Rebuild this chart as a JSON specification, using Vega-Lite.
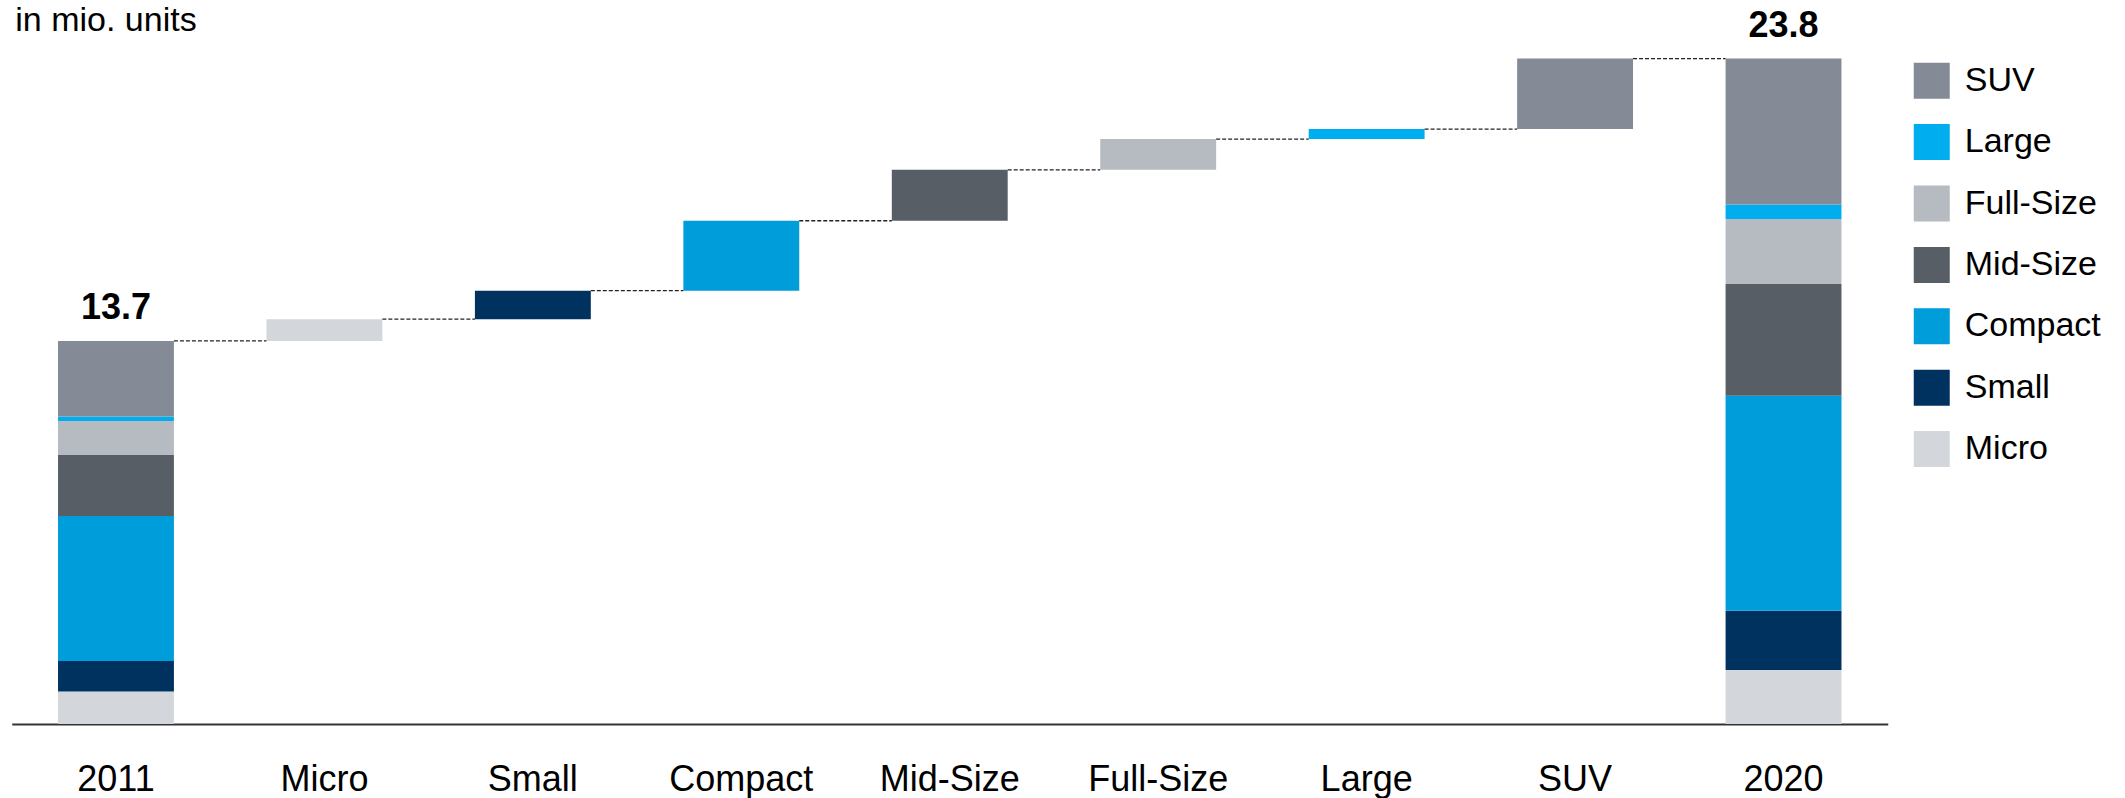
{
  "$schema": "https://vega.github.io/schema/vega-lite/v6.json",
  "width": 1876,
  "height": 685,
  "autosize": {"type": "none"},
  "padding": {"left": 11.75, "top": 39, "right": 237.25, "bottom": 74},
  "background": "white",
  "config": {"view": {"stroke": null}, "font": "Liberation Sans"},
  "datasets": {
    "bars": [
      {"cat": "2011", "seg": "Micro", "start": 0, "end": 1.16},
      {"cat": "2011", "seg": "Small", "start": 1.16, "end": 2.25},
      {"cat": "2011", "seg": "Compact", "start": 2.25, "end": 7.44},
      {"cat": "2011", "seg": "Mid-Size", "start": 7.44, "end": 9.62},
      {"cat": "2011", "seg": "Full-Size", "start": 9.62, "end": 10.84},
      {"cat": "2011", "seg": "Large", "start": 10.84, "end": 11.0},
      {"cat": "2011", "seg": "SUV", "start": 11.0, "end": 13.7},
      {"cat": "Micro", "seg": "Micro", "start": 13.7, "end": 14.48},
      {"cat": "Small", "seg": "Small", "start": 14.48, "end": 15.5},
      {"cat": "Compact", "seg": "Compact", "start": 15.5, "end": 18.0},
      {"cat": "Mid-Size", "seg": "Mid-Size", "start": 18.0, "end": 19.82},
      {"cat": "Full-Size", "seg": "Full-Size", "start": 19.82, "end": 20.92},
      {"cat": "Large", "seg": "Large", "start": 20.92, "end": 21.28},
      {"cat": "SUV", "seg": "SUV", "start": 21.28, "end": 23.8},
      {"cat": "2020", "seg": "Micro", "start": 0, "end": 1.93},
      {"cat": "2020", "seg": "Small", "start": 1.93, "end": 4.05},
      {"cat": "2020", "seg": "Compact", "start": 4.05, "end": 11.74},
      {"cat": "2020", "seg": "Mid-Size", "start": 11.74, "end": 15.74},
      {"cat": "2020", "seg": "Full-Size", "start": 15.74, "end": 18.06},
      {"cat": "2020", "seg": "Large", "start": 18.06, "end": 18.58},
      {"cat": "2020", "seg": "SUV", "start": 18.58, "end": 23.8}
    ],
    "links": [
      {"from": "2011", "to": "Micro", "level": 13.7},
      {"from": "Micro", "to": "Small", "level": 14.48},
      {"from": "Small", "to": "Compact", "level": 15.5},
      {"from": "Compact", "to": "Mid-Size", "level": 18.0},
      {"from": "Mid-Size", "to": "Full-Size", "level": 19.82},
      {"from": "Full-Size", "to": "Large", "level": 20.92},
      {"from": "Large", "to": "SUV", "level": 21.28},
      {"from": "SUV", "to": "2020", "level": 23.8}
    ],
    "totals": [
      {"cat": "2011", "value": 13.7},
      {"cat": "2020", "value": 23.8}
    ]
  },
  "layer": [
    {
      "data": {"name": "bars"},
      "mark": {"type": "bar", "strokeWidth": 0},
      "encoding": {
        "x": {
          "field": "cat", "type": "nominal", "title": null,
          "scale": {
            "domain": ["2011", "Micro", "Small", "Compact", "Mid-Size", "Full-Size", "Large", "SUV", "2020"],
            "paddingInner": 0.444, "paddingOuter": 0.222
          },
          "axis": {
            "orient": "bottom", "domain": true, "domainColor": "#333333", "domainWidth": 2,
            "ticks": false, "grid": false, "labelAngle": 0,
            "labelFont": "Liberation Sans", "labelFontSize": 36, "labelColor": "#000000",
            "labelBaseline": "alphabetic", "labelPadding": 66
          }
        },
        "y": {
          "field": "start", "type": "quantitative", "title": "in mio. units",
          "scale": {"domain": [0, 24.5], "nice": false, "zero": true},
          "axis": {
            "domain": false, "ticks": false, "labels": false, "grid": false,
            "titleAngle": 0, "titleX": 3, "titleY": -9, "titleAlign": "left",
            "titleBaseline": "alphabetic", "titleFont": "Liberation Sans",
            "titleFontSize": 34, "titleFontWeight": "normal", "titleColor": "#000000"
          }
        },
        "y2": {"field": "end"},
        "color": {
          "field": "seg", "type": "nominal", "title": null,
          "scale": {
            "domain": ["SUV", "Large", "Full-Size", "Mid-Size", "Compact", "Small", "Micro"],
            "range": ["#858b96", "#00adef", "#b6bac1", "#575e66", "#009ddb", "#00325f", "#d3d6db"]
          },
          "legend": {
            "orient": "none", "legendX": 1902, "legendY": 23.7, "padding": 0,
            "symbolType": "square", "symbolSize": 1296, "symbolStrokeWidth": 0, "symbolOpacity": 1,
            "labelFont": "Liberation Sans", "labelFontSize": 34, "labelColor": "#000000",
            "labelOffset": 15, "rowPadding": 25.4, "labelLimit": 300
          }
        }
      }
    },
    {
      "data": {"name": "links"},
      "mark": {"type": "rule", "strokeDash": [4, 2], "color": "#222222", "strokeWidth": 1.3},
      "encoding": {
        "x": {"field": "from", "type": "nominal", "bandPosition": 1, "title": null},
        "x2": {"field": "to", "bandPosition": 0},
        "y": {"field": "level", "type": "quantitative", "title": "in mio. units"}
      }
    },
    {
      "data": {"name": "totals"},
      "mark": {"type": "text", "font": "Liberation Sans", "fontSize": 36, "fontWeight": "bold", "baseline": "alphabetic", "dy": -22, "color": "#000000"},
      "encoding": {
        "x": {"field": "cat", "type": "nominal", "title": null},
        "y": {"field": "value", "type": "quantitative", "title": "in mio. units"},
        "text": {"field": "value", "type": "quantitative", "format": ".1f"}
      }
    }
  ]
}
